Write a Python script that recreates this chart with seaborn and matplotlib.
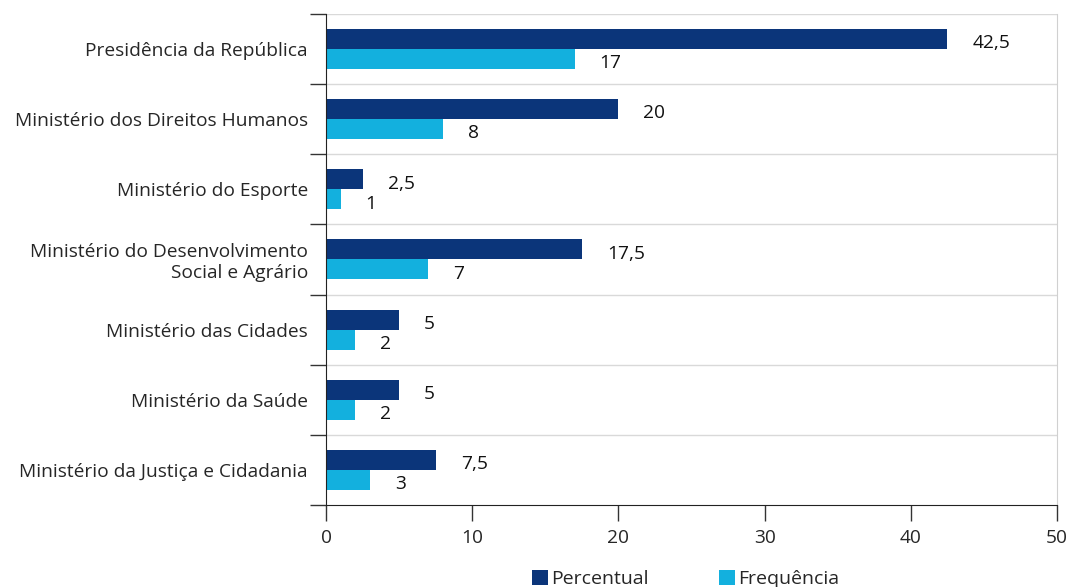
import matplotlib
matplotlib.use("Agg")
import matplotlib.pyplot as plt
import pandas as pd
import seaborn as sns

categories = [
    "Presidência da República",
    "Ministério dos Direitos Humanos",
    "Ministério do Esporte",
    "Ministério do Desenvolvimento\nSocial e Agrário",
    "Ministério das Cidades",
    "Ministério da Saúde",
    "Ministério da Justiça e Cidadania",
]
percentual = [42.5, 20, 2.5, 17.5, 5, 5, 7.5]
frequencia = [17, 8, 1, 7, 2, 2, 3]
series = ["Percentual", "Frequência"]
colors = ["#0b357a", "#13b0de"]

df = pd.DataFrame({
    "orgao": categories * 2,
    "valor": percentual + frequencia,
    "serie": [series[0]] * len(categories) + [series[1]] * len(categories),
})

sns.set_style("white")
plt.rcParams["font.family"] = ["Open Sans", "DejaVu Sans"]

fig = plt.figure(figsize=(10.7, 5.87), dpi=100)
ax = fig.add_axes([0.3047, 0.140, 0.6832, 0.836])

sns.barplot(
    data=df, y="orgao", x="valor", hue="serie", order=categories,
    hue_order=series, palette=colors, orient="h", width=0.57,
    saturation=1, linewidth=0, ax=ax,
)

for cont in ax.containers:
    anns = ax.bar_label(cont, fmt=lambda v: f"{v:g}".replace(".", ","),
                        padding=18, fontsize=13.8, color="#111111")
    for a in anns:
        a.xyann = (18, -3)

n = len(categories)
ax.set_xlim(0, 50)
ax.set_ylim(n - 0.5, -0.5)
ax.set_xticks(range(0, 51, 10))
ax.set_yticks(range(n))
ax.set_yticks([i - 0.5 for i in range(n + 1)], minor=True)
ax.tick_params(axis="y", which="major", length=0, pad=13, labelsize=13.8)
ax.tick_params(axis="y", which="minor", length=11.5, width=1, color="#333333",
               left=True)
ax.tick_params(axis="x", length=11.5, width=1, color="#333333", bottom=True,
               pad=6, labelsize=13.8)
for lab in ax.get_yticklabels():
    lab.set_horizontalalignment("right")
    lab.set_multialignment("right")

ax.grid(False)
for b in range(n):
    ax.axhline(b - 0.5, color="#d9d9d9", linewidth=1, zorder=0)

ax.spines["left"].set_color("#222222")
ax.spines["bottom"].set_color("#222222")
ax.spines["right"].set_color("#d0d0d0")
ax.spines["top"].set_visible(False)
ax.set_xlabel("")
ax.set_ylabel("")

handles, labels = ax.get_legend_handles_labels()
ax.get_legend().remove()
fig.legend(handles, labels, loc="center", bbox_to_anchor=(0.641, 0.013),
           ncol=2, frameon=False, handlelength=0.8, handleheight=0.8,
           handletextpad=0.2, columnspacing=3.6, fontsize=14)

fig.savefig("out.png", dpi=100)
